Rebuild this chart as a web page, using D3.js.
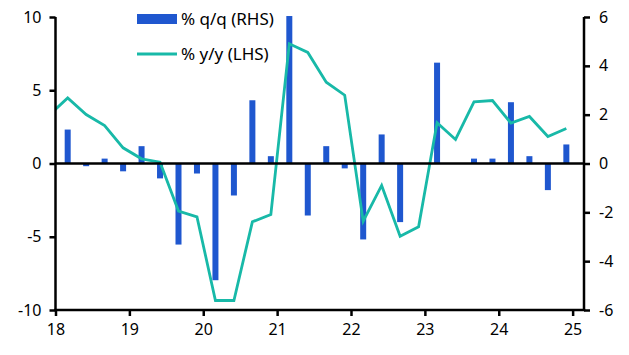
<!DOCTYPE html>
<html>
<head>
<meta charset="utf-8">
<script src="https://cdn.jsdelivr.net/npm/d3@7"></script>
<style>
  body { margin: 0; background: #fff; }
  svg { display: block; font-family: "Noto Sans", "Open Sans", sans-serif; }
</style>
</head>
<body>
<svg id="chart" width="629" height="355"></svg>
<script>
// Quarters 2018Q1..2024Q4
const quarters = [
  "2018Q1","2018Q2","2018Q3","2018Q4","2019Q1","2019Q2","2019Q3","2019Q4",
  "2020Q1","2020Q2","2020Q3","2020Q4","2021Q1","2021Q2","2021Q3","2021Q4",
  "2022Q1","2022Q2","2022Q3","2022Q4","2023Q1","2023Q2","2023Q3","2023Q4",
  "2024Q1","2024Q2","2024Q3","2024Q4"
];
// % q/q (RHS)
const qoq = [1.39,-0.11,0.20,-0.32,0.71,-0.61,-3.32,-0.41,
             -4.78,-1.31,2.59,0.30,6.04,-2.13,0.71,-0.20,
             -3.11,1.19,-2.40,0.0,4.13,0.0,0.20,0.20,
             2.51,0.30,-1.09,0.78];
// % y/y (LHS), including 2017Q4 lead-in point
const yoyQuarters = ["2017Q4"].concat(quarters);
const yoy = [3.3,
             4.48,3.34,2.59,1.07,0.32,0.09,-3.25,-3.64,
             -9.35,-9.35,-3.98,-3.48,8.17,7.58,5.55,4.66,
             -3.94,-1.50,-4.96,-4.32,2.78,1.64,4.21,4.30,
             2.76,3.21,1.84,2.39];
const xTicks = [18,19,20,21,22,23,24,25];
const leftTicks = [-10,-5,0,5,10];
const rightTicks = [-6,-4,-2,0,2,4,6];
const seriesNames = ["% q/q (RHS)", "% y/y (LHS)"];

const barColor = "#1f57cf";
const lineColor = "#18b9a8";

function qPos(q) {
  const y = +q.slice(2,4), n = +q.slice(5);
  return y + (n - 1) * 0.25 + 0.165;
}

const svg = d3.select("#chart");
const L = 55.5, R = 584, T = 17, B = 310;

const x = d3.scaleLinear().domain([18, 25.154]).range([L, R]);
const yL = d3.scaleLinear().domain([-10, 10]).range([B, T]);
const yR = d3.scaleLinear().domain([-6, 6]).range([B, T]);

svg.append("defs").append("clipPath").attr("id","clip")
  .append("rect").attr("x", L).attr("y", T - 2).attr("width", R - L).attr("height", B - T + 4);

// bars
svg.append("g").selectAll("rect").data(quarters).join("rect")
  .attr("x", (d) => x(qPos(d)) - 3)
  .attr("width", 6)
  .attr("y", (d, i) => yR(Math.max(0, qoq[i])))
  .attr("height", (d, i) => Math.abs(yR(qoq[i]) - yR(0)))
  .attr("fill", barColor);

// line
const line = d3.line().x((d) => x(qPos(d[0]))).y((d) => yL(d[1]));
svg.append("path")
  .datum(yoyQuarters.map((q, i) => [q, yoy[i]]))
  .attr("clip-path", "url(#clip)")
  .attr("d", line)
  .attr("fill", "none")
  .attr("stroke", lineColor)
  .attr("stroke-width", 2.8)
  .attr("stroke-linejoin", "miter");

// zero line
svg.append("line")
  .attr("x1", L).attr("x2", R).attr("y1", yL(0)).attr("y2", yL(0))
  .attr("stroke", "#000").attr("stroke-width", 2.5);

// axes
const fontSize = "16px";
function styleAxis(g) {
  g.selectAll(".domain").attr("stroke", "#000").attr("stroke-width", 2.5);
  g.selectAll(".tick line").attr("stroke", "#000").attr("stroke-width", 2.5);
  g.selectAll(".tick text").attr("fill", "#000").style("font-size", fontSize)
    .style("font-family", '"Noto Sans", "Open Sans", sans-serif');
}

const gl = svg.append("g").attr("transform", `translate(${L},0)`)
  .call(d3.axisLeft(yL).tickValues(leftTicks).tickSize(6).tickSizeOuter(0).tickPadding(8)
    .tickFormat(d3.format("d")));
styleAxis(gl);
gl.selectAll(".domain").attr("d", `M0,${T}V${B}`);

const gr = svg.append("g").attr("transform", `translate(${R},0)`)
  .call(d3.axisRight(yR).tickValues(rightTicks).tickSize(6).tickSizeOuter(0).tickPadding(9)
    .tickFormat(d3.format("d")));
styleAxis(gr);
gr.selectAll(".domain").attr("d", `M0,${T}V${B}`);

const gb = svg.append("g").attr("transform", `translate(0,${B})`)
  .call(d3.axisBottom(x).tickValues(xTicks).tickSize(6).tickSizeOuter(0).tickPadding(8)
    .tickFormat(d3.format("d")));
styleAxis(gb);
gb.selectAll(".domain").attr("d", `M${L - 1.25},0H${R + 1.25}`);

svg.selectAll(".tick text").text(function () { return this.textContent.replace("\u2212", "-"); });

// legend
const legendFont = "17px";
const lg = svg.append("g");
lg.append("rect").attr("x", 137).attr("y", 14).attr("width", 40).attr("height", 10).attr("fill", barColor);
lg.append("text").attr("x", 181).attr("y", 24.5).text(seriesNames[0])
  .style("font-size", legendFont).attr("fill", "#000");
lg.append("line").attr("x1", 137).attr("x2", 177).attr("y1", 54).attr("y2", 54)
  .attr("stroke", lineColor).attr("stroke-width", 2.8);
lg.append("text").attr("x", 181).attr("y", 60).text(seriesNames[1])
  .style("font-size", legendFont).attr("fill", "#000");
</script>
</body>
</html>
